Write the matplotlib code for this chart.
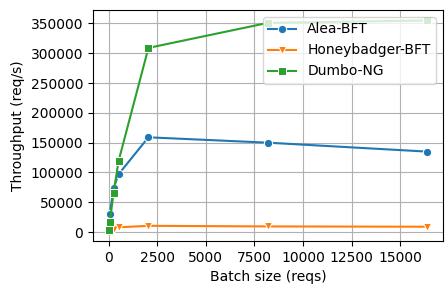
import matplotlib
matplotlib.use("Agg")
import matplotlib.pyplot as plt

# batch sizes (reqs)
batch = [16, 64, 256, 512, 2048, 8192, 16384]

# throughput (req/s)
alea = [5000, 30000, 74000, 97000, 159000, 150000, 135000]
honeybadger = [3000, 4000, 6000, 8000, 10500, 9500, 9000]
dumbo = [3500, 17500, 66000, 119000, 309000, 351000, 355000]

fig = plt.figure(figsize=(4.46, 2.94), dpi=100)
ax = fig.add_axes([0.2085, 0.181, 0.785, 0.785])

style = dict(linewidth=1.5, markersize=6, markeredgecolor="white", markeredgewidth=0.75)
ax.plot(batch, alea, marker="o", color="#1f77b4", label="Alea-BFT", **style)
ax.plot(batch, honeybadger, marker="v", color="#ff7f0e", label="Honeybadger-BFT", **style)
ax.plot(batch, dumbo, marker="s", color="#2ca02c", label="Dumbo-NG", **style)

ax.set_xlabel("Batch size (reqs)")
ax.set_ylabel("Throughput (req/s)")
ax.set_xticks([0, 2500, 5000, 7500, 10000, 12500, 15000])
ax.set_yticks(range(0, 350001, 50000))
ax.grid(True)
ax.legend(loc="upper right")

fig.savefig("out.png", dpi=100)
